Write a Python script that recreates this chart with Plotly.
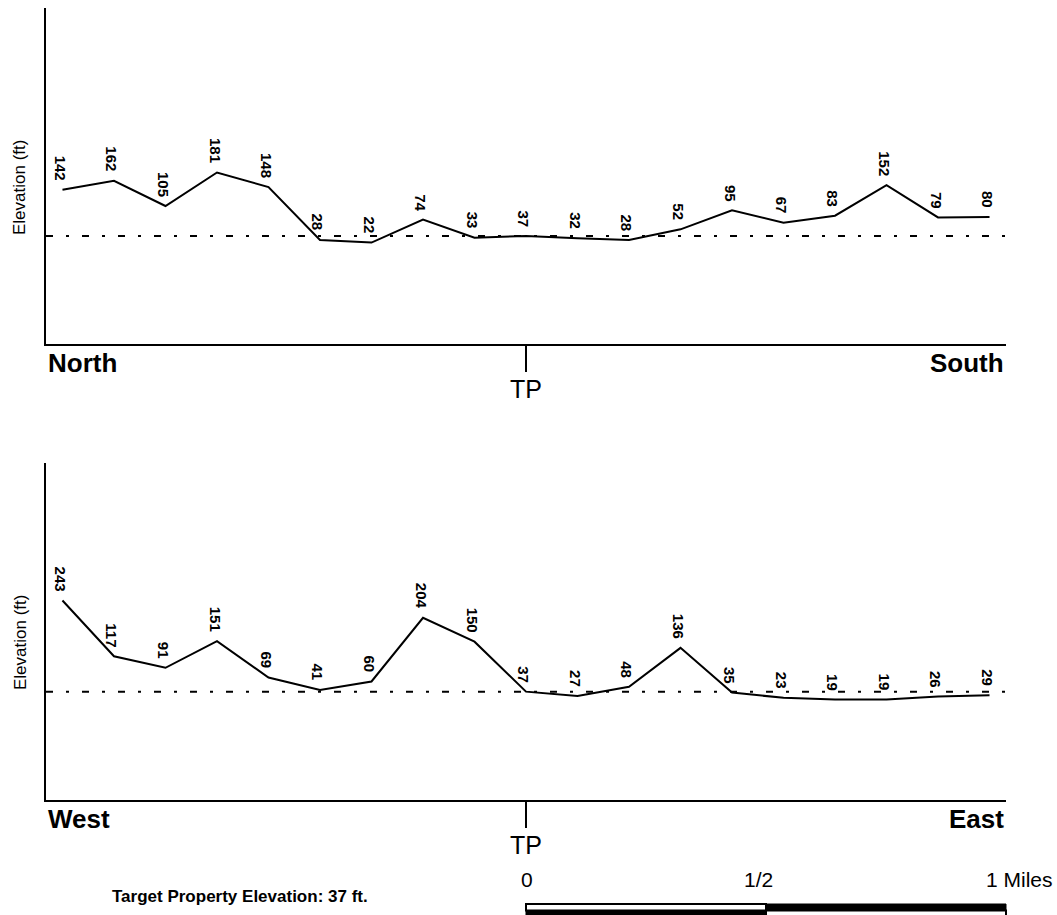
import plotly.graph_objects as go

W, H = 1057, 915

# ---- data ----
positions = [-9, -8, -7, -6, -5, -4, -3, -2, -1, 0, 1, 2, 3, 4, 5, 6, 7, 8, 9]
ns_elev = [142, 162, 105, 181, 148, 28, 22, 74, 33, 37, 32, 28, 52, 95, 67, 83, 152, 79, 80]
we_elev = [243, 117, 91, 151, 69, 41, 60, 204, 150, 37, 27, 48, 136, 35, 23, 19, 19, 26, 29]
tp_elev = 37
ns_ends = ["North", "South"]
we_ends = ["West", "East"]
scale_labels = ["0", "1/2", "1 Miles"]
y_title = "Elevation (ft)"
tp_label = "TP"
target_text = "Target Property Elevation: 37 ft."


def px(x):
    return x / W


def py(y):
    return 1 - y / H


FONT = "Liberation Sans, Arial, sans-serif"
fig = go.Figure()

fig.add_trace(go.Scatter(x=positions, y=ns_elev, mode="lines",
                         line=dict(color="black", width=2), xaxis="x", yaxis="y",
                         hoverinfo="skip", showlegend=False))
fig.add_trace(go.Scatter(x=positions, y=we_elev, mode="lines",
                         line=dict(color="black", width=2), xaxis="x2", yaxis="y2",
                         hoverinfo="skip", showlegend=False))

xdom = [px(46), px(1006)]
xr = [-9.32, 9.32]
yr = [-208, 554]

common_x = dict(domain=xdom, range=xr, showline=True, linecolor="black", linewidth=2,
                ticks="outside", tickvals=[0], ticktext=[tp_label], ticklen=26,
                tickwidth=2, tickcolor="black", ticklabelstandoff=-4,
                tickfont=dict(family=FONT, size=25, color="black"),
                showgrid=False, zeroline=False, fixedrange=True)
common_y = dict(range=yr, showline=True, linecolor="black", linewidth=2.5,
                showticklabels=False, ticks="", showgrid=False, zeroline=False,
                fixedrange=True)

fig.update_layout(
    width=W, height=H, margin=dict(l=0, r=0, t=0, b=0),
    paper_bgcolor="white", plot_bgcolor="white", showlegend=False,
    xaxis=dict(anchor="y", **common_x),
    yaxis=dict(anchor="x", domain=[py(344), py(8)], **common_y),
    xaxis2=dict(anchor="y2", **common_x),
    yaxis2=dict(anchor="x2", domain=[py(800), py(463)], **common_y),
)

annotations = []
shapes = []
for xa, ya, elev in [("x", "y", ns_elev), ("x2", "y2", we_elev)]:
    # dash-dot line at target property elevation
    shapes.append(dict(type="line", xref=f"{xa} domain", yref=ya, x0=0, x1=1,
                       y0=tp_elev, y1=tp_elev,
                       line=dict(color="black", width=2, dash="7px,13px,3px,13px")))
    for xv, v in zip(positions, elev):
        annotations.append(dict(x=xv, y=v, xref=xa, yref=ya, text=str(v),
                                textangle=90, showarrow=False, yanchor="bottom",
                                xanchor="center", yshift=7, xshift=-2,
                                font=dict(family=FONT, size=15, color="black",
                                          weight="bold")))

# axis titles
for ycen in [188, 643]:
    annotations.append(dict(x=px(20), y=py(ycen), xref="paper", yref="paper",
                            text=y_title, textangle=-90, showarrow=False,
                            xanchor="center", yanchor="middle",
                            font=dict(family=FONT, size=17, color="black")))

# end labels
for ends, ytop in [(ns_ends, 346), (we_ends, 802)]:
    annotations.append(dict(x=px(46), y=py(ytop), xref="paper", yref="paper",
                            text=ends[0], showarrow=False, xanchor="left",
                            yanchor="top",
                            font=dict(family=FONT, size=26, color="black",
                                      weight="bold")))
    annotations.append(dict(x=px(1006), y=py(ytop), xref="paper", yref="paper",
                            text=ends[1], showarrow=False, xanchor="right",
                            yanchor="top",
                            font=dict(family=FONT, size=26, color="black",
                                      weight="bold")))

# scale bar labels
for lbl, xpos, anc in zip(scale_labels, [527, 758, 984], ["center", "center", "left"]):
    annotations.append(dict(x=px(xpos), y=py(879), xref="paper", yref="paper",
                            text=lbl, showarrow=False, xanchor=anc,
                            yanchor="middle",
                            font=dict(family=FONT, size=21, color="black")))

annotations.append(dict(x=px(240), y=py(896), xref="paper", yref="paper",
                        text=target_text, showarrow=False, xanchor="center",
                        yanchor="middle",
                        font=dict(family=FONT, size=17, color="black",
                                  weight="bold")))

# scale bar
bar_l, bar_m, bar_r = 526, 766, 1006
bar_t, bar_c, bar_b = 904, 910.5, 922
shapes += [
    dict(type="rect", xref="paper", yref="paper", x0=px(bar_l), x1=px(bar_m),
         y0=py(bar_c), y1=py(bar_t), fillcolor="white",
         line=dict(color="black", width=2)),
    dict(type="rect", xref="paper", yref="paper", x0=px(bar_m), x1=px(bar_r),
         y0=py(bar_c), y1=py(bar_t), fillcolor="black",
         line=dict(color="black", width=1)),
    dict(type="rect", xref="paper", yref="paper", x0=px(bar_l), x1=px(bar_m),
         y0=py(bar_b), y1=py(bar_c), fillcolor="black",
         line=dict(color="black", width=1)),
    dict(type="rect", xref="paper", yref="paper", x0=px(bar_m), x1=px(bar_r),
         y0=py(bar_b), y1=py(bar_c), fillcolor="white",
         line=dict(color="black", width=2)),
]

fig.update_layout(annotations=annotations, shapes=shapes)
fig.write_html("out.html",
               config={"displayModeBar": False, "staticPlot": True},
               post_script="document.body.style.margin='0px';"
                           "document.body.style.overflow='hidden';")
